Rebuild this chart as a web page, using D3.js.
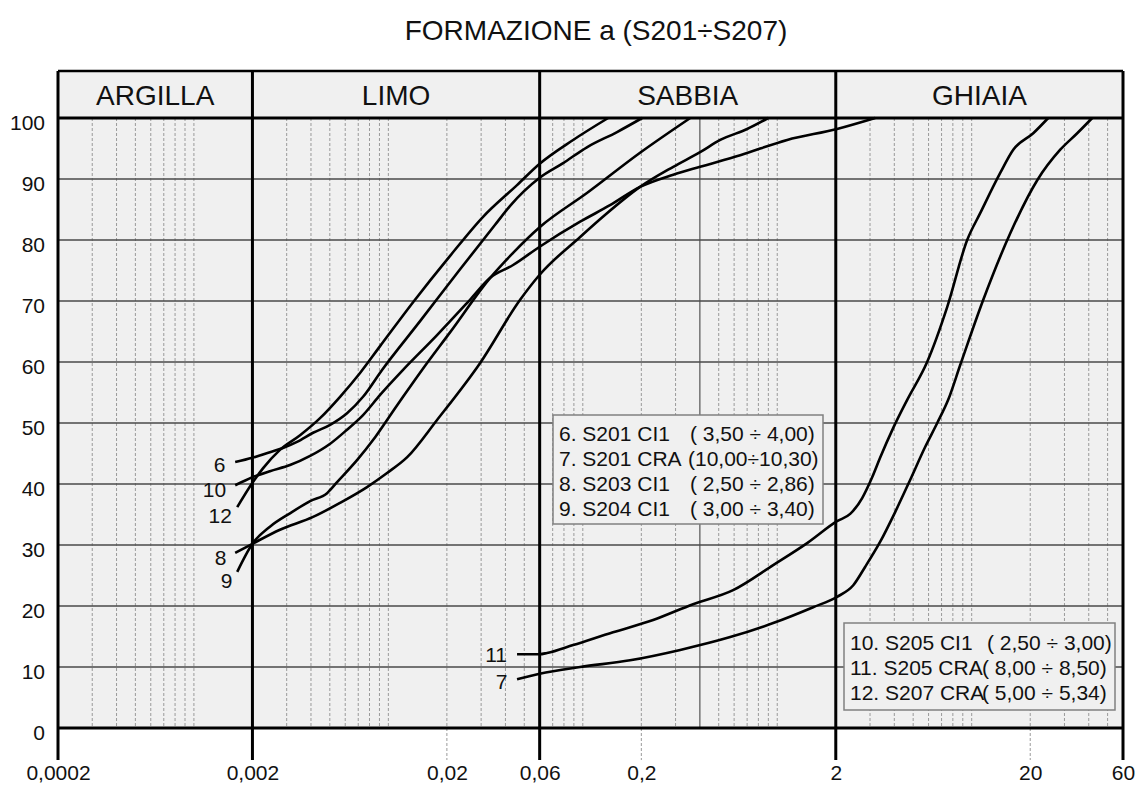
<!DOCTYPE html>
<html>
<head>
<meta charset="utf-8">
<script src="https://cdn.jsdelivr.net/npm/d3@7"></script>
<style>
  body { margin: 0; background: #fff; }
  svg { display: block; font-family: "Liberation Sans", Arial, sans-serif; }
</style>
</head>
<body>
<svg id="chart" width="1137" height="785"></svg>
<script>
// Grain-size distribution curves: diameter (mm) vs. percentage passing

const chartTitle = "FORMAZIONE a (S201÷S207)";

// Soil fractions and their boundary diameters (mm)
const fractionNames = ["ARGILLA", "LIMO", "SABBIA", "GHIAIA"];
const fractionLimits = [0.0002, 0.002, 0.06, 2, 60];

// Axis ticks
const xTickValues = [0.0002, 0.002, 0.02, 0.06, 0.2, 2, 20, 60];
const xTickLabels = ["0,0002", "0,002", "0,02", "0,06", "0,2", "2", "20", "60"];
const yTickValues = [0, 10, 20, 30, 40, 50, 60, 70, 80, 90, 100];
const sieveLine = 0.4;

// Curves: [diameter mm, % passing]
const curve6 = [[0.00163,43.6],[0.002,44.3],[0.00246,45.2],[0.00287,45.9],[0.00339,46.9],[0.0041,48.4],[0.00502,49.7],[0.00613,51.6],[0.00741,54.3],[0.00928,58.7],[0.01456,66.7],[0.02338,75.2],[0.03539,82.5],[0.04228,85.6],[0.06,90.2],[0.0792,92.6],[0.105,95.2],[0.150,97.7],[0.202,100]];
const curve7 = [[0.0459,8.0],[0.06,8.9],[0.0969,10.0],[0.175,11.1],[0.317,12.8],[0.573,14.9],[0.953,17.2],[1.53,19.8],[2.03,21.5],[2.46,23.4],[2.83,26.4],[3.38,30.5],[4.04,35.4],[4.83,40.7],[5.77,46.1],[6.65,50.0],[7.57,53.8],[8.73,59.5],[11.47,70.2],[15.79,81.1],[21.73,89.8],[28.53,94.8],[34.89,97.5],[41.68,100]];
const curve8 = [[0.00163,28.7],[0.002,30.2],[0.00277,32.5],[0.0041,34.6],[0.00564,36.9],[0.00777,39.5],[0.00985,41.8],[0.0125,44.4],[0.0178,50.5],[0.0296,59.8],[0.0476,70.2],[0.06,74.3],[0.0969,80.5],[0.130,84.1],[0.197,88.7],[0.292,92.0],[0.401,94.4],[0.509,96.4],[0.700,98.2],[0.898,100]];
const curve9 = [[0.00167,25.6],[0.002,30.2],[0.00246,33.0],[0.00312,35.2],[0.00396,37.2],[0.00484,38.5],[0.00545,40.3],[0.0069,43.9],[0.00834,47.2],[0.00985,50.5],[0.0119,54.3],[0.0149,58.7],[0.0208,64.9],[0.0334,73.8],[0.0438,77.9],[0.06,82.1],[0.105,87.7],[0.197,94.3],[0.357,100]];
const curve10 = [[0.00163,39.8],[0.002,41.1],[0.00246,42.1],[0.00312,43.1],[0.00396,44.6],[0.00502,46.6],[0.00613,48.9],[0.00741,51.3],[0.00907,54.6],[0.0119,58.7],[0.0178,64.4],[0.0263,70.2],[0.0334,73.8],[0.0438,75.9],[0.06,78.9],[0.0969,83.0],[0.138,85.7],[0.197,88.7],[0.292,90.7],[0.401,92.0],[0.645,93.9],[1.125,96.4],[2.03,98.2],[3.19,100]];
const curve11 = [[0.0459,12.1],[0.06,12.1],[0.0655,12.3],[0.0892,13.6],[0.143,15.7],[0.230,17.7],[0.369,20.3],[0.593,22.6],[0.953,26.7],[1.425,30.3],[2.03,33.9],[2.372,35.1],[2.734,37.7],[3.077,41.1],[3.38,44.3],[3.95,49.2],[4.66,53.8],[5.9,60.0],[7.48,69.0],[9.48,80.0],[11.06,84.4],[14.02,91.0],[16.36,94.8],[20.72,97.5],[24.75,100]];
const curve12 = [[0.00167,36.2],[0.002,40.2],[0.00227,42.6],[0.00277,45.6],[0.003515,48.0],[0.004454,50.8],[0.005644,54.3],[0.007152,58.2],[0.009066,62.6],[0.0134,69.8],[0.02077,77.4],[0.0307,83.8],[0.0459,89.0],[0.06,92.5],[0.0892,96.4],[0.135,100]];

const seriesIds = ["6", "7", "8", "9", "10", "11", "12"];
const seriesValues = [curve6, curve7, curve8, curve9, curve10, curve11, curve12];

// Legend texts: sample name and depth range (m)
const legendSamplesA = ["6. S201 CI1", "7. S201 CRA", "8. S203 CI1", "9. S204 CI1"];
const legendDepthsA = ["( 3,50 ÷ 4,00)", "(10,00÷10,30)", "( 2,50 ÷ 2,86)", "( 3,00 ÷ 3,40)"];
const legendSamplesB = ["10. S205 CI1", "11. S205 CRA", "12. S207 CRA"];
const legendDepthsB = ["( 2,50 ÷ 3,00)", "( 8,00 ÷ 8,50)", "( 5,00 ÷ 5,34)"];

// ---- Layout ----
const svg = d3.select("#chart");
const plotLeft = 58, plotRight = 1123, plotTop = 118, plotBottom = 728;
const headerTop = 71, frameBottom = 760;
const bg = "#f0f0f0";

const x = d3.scaleLog().domain([fractionLimits[0], fractionLimits[fractionLimits.length - 1]]).range([plotLeft, plotRight]);
const y = d3.scaleLinear().domain([0, 100]).range([plotBottom, plotTop]);

// Title
svg.append("text")
  .attr("x", 596).attr("y", 40)
  .attr("text-anchor", "middle")
  .attr("font-size", 28)
  .attr("fill", "#111")
  .text(chartTitle);

// Backgrounds
svg.append("rect").attr("x", plotLeft).attr("y", headerTop).attr("width", plotRight - plotLeft).attr("height", plotTop - headerTop).attr("fill", bg);
svg.append("rect").attr("x", plotLeft).attr("y", plotTop).attr("width", plotRight - plotLeft).attr("height", plotBottom - plotTop).attr("fill", bg);

// Minor vertical grid (log decades)
const boundarySet = new Set(fractionLimits.map(v => +v.toPrecision(6)));
const labelledMinor = new Set([0.02, 0.2, 20]);
const minor = x.ticks().map(v => +v.toPrecision(6))
  .filter(v => v > fractionLimits[0] && v < 60 && !boundarySet.has(v) && v !== sieveLine);

svg.append("g").selectAll("line").data(minor).join("line")
  .attr("x1", d => x(d)).attr("x2", d => x(d))
  .attr("y1", plotTop).attr("y2", d => labelledMinor.has(d) ? frameBottom : plotBottom)
  .attr("stroke", "#9a9a9a").attr("stroke-width", 1)
  .attr("stroke-dasharray", "3,2");

// Solid sieve line
svg.append("line")
  .attr("x1", x(sieveLine)).attr("x2", x(sieveLine))
  .attr("y1", plotTop).attr("y2", plotBottom)
  .attr("stroke", "#555").attr("stroke-width", 1.2);

// Horizontal grid
svg.append("g").selectAll("line").data(yTickValues.filter(v => v > 0 && v < 100)).join("line")
  .attr("x1", plotLeft).attr("x2", plotRight)
  .attr("y1", d => y(d)).attr("y2", d => y(d))
  .attr("stroke", "#4a4a4a").attr("stroke-width", 1.3);

// Curves
const line = d3.line()
  .x(d => x(d[0]))
  .y(d => y(d[1]))
  .curve(d3.curveMonotoneX);

svg.append("g").selectAll("path").data(seriesValues).join("path")
  .attr("d", line)
  .attr("fill", "none")
  .attr("stroke", "#000")
  .attr("stroke-width", 2.6)
  .attr("stroke-linejoin", "round")
  .attr("stroke-linecap", "butt");

// Curve number labels, set back along the direction of each curve's first segment
function labelAnchor(values) {
  const x0 = x(values[0][0]), y0 = y(values[0][1]);
  const x1 = x(values[1][0]), y1 = y(values[1][1]);
  const len = Math.hypot(x1 - x0, y1 - y0) || 1;
  return [x0 - 10 * (x1 - x0) / len, y0 - 10 * (y1 - y0) / len];
}
svg.append("g").selectAll("text").data(seriesValues).join("text")
  .attr("x", d => labelAnchor(d)[0])
  .attr("y", d => labelAnchor(d)[1] + 7.5)
  .attr("text-anchor", "end")
  .attr("font-size", 21)
  .attr("fill", "#111")
  .text((d, i) => seriesIds[i]);

// Legend boxes
function legendBox(x0, y0, w, h, samples, depths, depthX, rowStart, rowStep) {
  const g = svg.append("g");
  g.append("rect").attr("x", x0).attr("y", y0).attr("width", w).attr("height", h)
    .attr("fill", bg).attr("stroke", "#808080").attr("stroke-width", 1.5);
  samples.forEach((s, i) => {
    g.append("text").attr("x", x0 + 6).attr("y", rowStart + i * rowStep)
      .attr("font-size", 21).attr("fill", "#111").style("white-space", "pre").text(s);
    g.append("text").attr("x", depthX[i]).attr("y", rowStart + i * rowStep)
      .attr("font-size", 21).attr("fill", "#111").style("white-space", "pre").text(depths[i]);
  });
}
legendBox(553, 415, 270, 109, legendSamplesA, legendDepthsA, [690, 688, 690, 690], 441, 25);
legendBox(844, 623, 271, 87, legendSamplesB, legendDepthsB, [987, 982, 982], 650, 25);

// Frame: header band, fraction boundaries, plot border
const frame = svg.append("g").attr("stroke", "#000").attr("fill", "none");
frame.append("line").attr("x1", plotLeft).attr("x2", plotRight).attr("y1", headerTop).attr("y2", headerTop).attr("stroke-width", 2.5);
frame.append("line").attr("x1", plotLeft).attr("x2", plotRight).attr("y1", plotTop).attr("y2", plotTop).attr("stroke-width", 3);
frame.append("line").attr("x1", plotLeft).attr("x2", plotRight).attr("y1", plotBottom).attr("y2", plotBottom).attr("stroke-width", 3);
frame.selectAll("line.limit").data(fractionLimits).join("line").attr("class", "limit")
  .attr("x1", d => x(d)).attr("x2", d => x(d))
  .attr("y1", headerTop).attr("y2", frameBottom)
  .attr("stroke-width", 3);

// Fraction names in the header
svg.append("g").selectAll("text").data(fractionNames).join("text")
  .attr("x", (d, i) => (x(fractionLimits[i]) + x(fractionLimits[i + 1])) / 2)
  .attr("y", 105)
  .attr("text-anchor", "middle")
  .attr("font-size", 28)
  .attr("fill", "#111")
  .text(d => d);

// Axes
const xAxis = d3.axisBottom(x)
  .tickValues(xTickValues)
  .tickFormat((d, i) => xTickLabels[i])
  .tickSize(0).tickPadding(0);
const gx = svg.append("g").attr("transform", `translate(0,${frameBottom + 5})`).call(xAxis);
gx.select(".domain").remove();
gx.selectAll("text").attr("font-size", 21).attr("fill", "#111").attr("font-family", "Liberation Sans, Arial, sans-serif");

const yAxis = d3.axisLeft(y)
  .tickValues(yTickValues)
  .tickFormat(d => String(d))
  .tickSize(0).tickPadding(0);
const gy = svg.append("g").attr("transform", `translate(45,0)`).call(yAxis);
gy.select(".domain").remove();
gy.selectAll("text").attr("font-size", 21).attr("fill", "#111").attr("dy", "0.55em").attr("font-family", "Liberation Sans, Arial, sans-serif");
</script>
</body>
</html>
